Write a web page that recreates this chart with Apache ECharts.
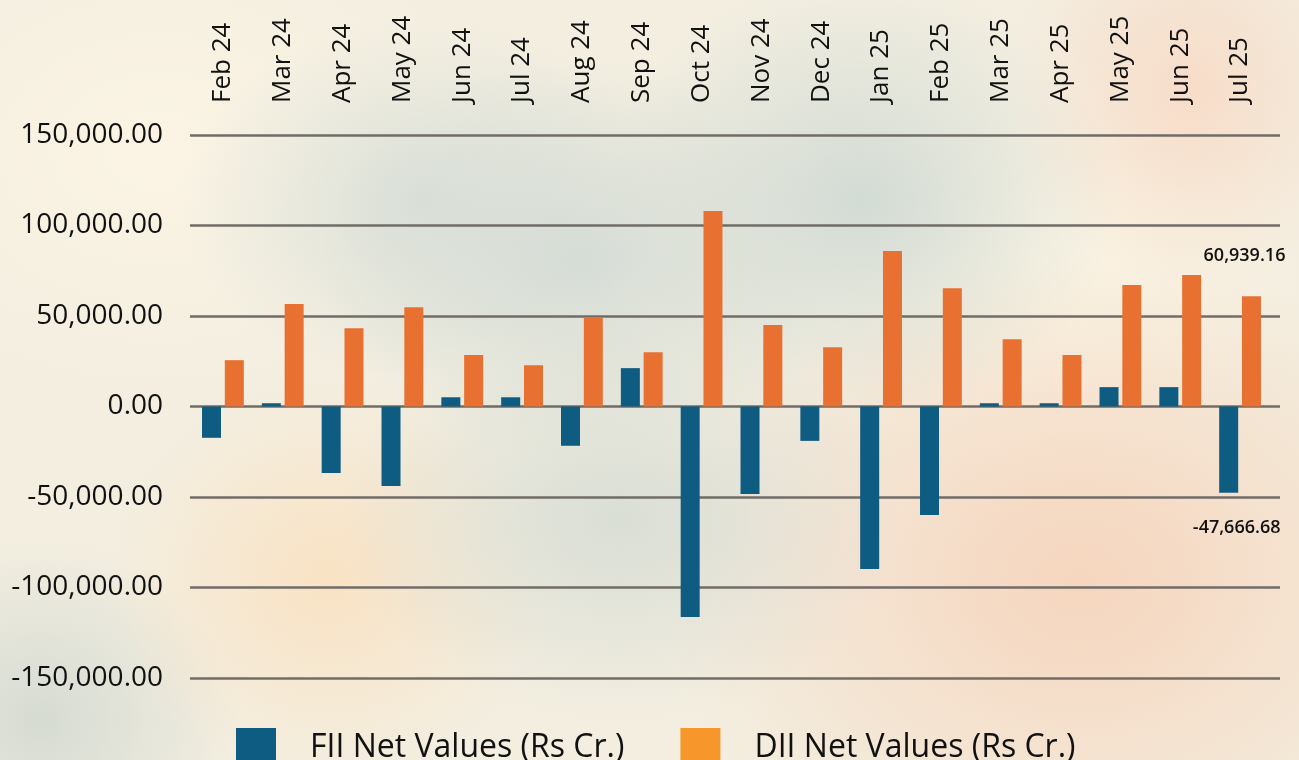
<!DOCTYPE html>
<html>
<head>
<meta charset="utf-8">
<script src="https://cdn.jsdelivr.net/npm/echarts@6/dist/echarts.min.js"></script>
<style>
html,body{margin:0;padding:0;width:1299px;height:760px;overflow:hidden;}
body{
  background-color:#F3EEE0;
  background-image:
    radial-gradient(ellipse 240px 180px at 420px 200px, rgba(212,220,214,0.8), rgba(212,220,214,0) 100%),
    radial-gradient(ellipse 260px 200px at 580px 260px, rgba(210,219,213,0.9), rgba(210,219,213,0) 100%),
    radial-gradient(ellipse 260px 220px at 860px 200px, rgba(208,218,212,0.95), rgba(208,218,212,0) 100%),
    radial-gradient(ellipse 280px 200px at 620px 520px, rgba(214,220,212,0.9), rgba(214,220,212,0) 100%),
    radial-gradient(ellipse 220px 200px at 330px 580px, rgba(250,226,194,0.95), rgba(250,226,194,0) 100%),
    radial-gradient(ellipse 420px 330px at 1080px 580px, rgba(246,212,188,0.95), rgba(246,212,188,0) 100%),
    radial-gradient(ellipse 180px 200px at 1190px 90px, rgba(248,218,198,0.9), rgba(248,218,198,0) 100%),
    radial-gradient(ellipse 200px 180px at 40px 720px, rgba(212,218,210,0.95), rgba(212,218,210,0) 100%),
    radial-gradient(ellipse 300px 220px at 1030px 260px, rgba(252,245,228,0.95), rgba(252,245,228,0) 100%),
    radial-gradient(ellipse 360px 260px at 160px 150px, rgba(251,244,228,1), rgba(251,244,228,0) 100%);
}
#chart{width:1299px;height:760px;}
</style>
</head>
<body>
<div id="chart"></div>
<script>
const categories = ['Feb 24','Mar 24','Apr 24','May 24','Jun 24','Jul 24','Aug 24','Sep 24','Oct 24','Nov 24','Dec 24','Jan 25','Feb 25','Mar 25','Apr 25','May 25','Jun 25','Jul 25'];
const fiiValues = [-17300, 1800, -36700, -43900, 5100, 5100, -21700, 21200, -116300, -48300, -19000, -89800, -59900, 1800, 1800, 10700, 10700, -47666.68];
const diiValues = [25600, 56600, 43300, 54900, 28400, 22800, 49500, 30000, 108000, 45000, 32800, 85900, 65400, 37200, 28400, 67100, 72600, 60939.16];
const fiiName = 'FII Net Values (Rs Cr.)';
const diiName = 'DII Net Values (Rs Cr.)';
const yMin = -150000, yMax = 150000, yStep = 50000;

const FONT = '"Open Sans", sans-serif';
const fmt = v => Number(v).toLocaleString('en-US', {minimumFractionDigits: 2, maximumFractionDigits: 2});
const last = categories.length - 1;

function buildData(values, labelOpt) {
  return values.map((v, i) => i === last ? {value: v, label: labelOpt} : v);
}

const chart = echarts.init(document.getElementById('chart'), null, {renderer: 'canvas'});
chart.setOption({
  backgroundColor: 'transparent',
  animation: false,
  textStyle: {fontFamily: FONT},
  grid: [
    {left: 190, right: 19, top: 135, bottom: 82},
    {left: 193, right: 29, top: 135, bottom: 82}
  ],
  legend: {
    left: 236, top: 728, padding: 0,
    itemWidth: 40, itemHeight: 40, itemGap: 56,
    icon: 'rect',
    textStyle: {fontFamily: FONT, fontSize: 32, color: '#111', padding: [0, 0, 8, 29]},
    data: [
      {name: fiiName, itemStyle: {color: '#0F5C82'}},
      {name: diiName, itemStyle: {color: '#F7962A'}}
    ]
  },
  xAxis: [
    {gridIndex: 0, type: 'category', data: categories, show: false},
    {
      gridIndex: 1, type: 'category', data: categories, position: 'top',
      axisLine: {show: false}, axisTick: {show: false}, splitLine: {show: false},
      axisLabel: {rotate: 90, margin: 32, fontSize: 26, color: '#111', fontFamily: FONT, interval: 0}
    }
  ],
  yAxis: [
    {
      gridIndex: 0, type: 'value', min: yMin, max: yMax, interval: yStep,
      axisLine: {show: false}, axisTick: {show: false},
      axisLabel: {margin: 27, fontSize: 28, color: '#111', fontFamily: FONT, formatter: fmt},
      splitLine: {show: true, lineStyle: {color: '#716C67', width: 2.5}}
    },
    {gridIndex: 1, type: 'value', min: yMin, max: yMax, interval: yStep, show: false, splitLine: {show: false}}
  ],
  series: [
    {
      name: fiiName, type: 'bar', xAxisIndex: 1, yAxisIndex: 1,
      barWidth: 19, barGap: '20%',
      itemStyle: {color: '#0F5C82'},
      data: buildData(fiiValues, {
        show: true, position: 'bottom', distance: 5, offset: [8, 21],
        fontSize: 18, fontWeight: 600, color: '#111', fontFamily: FONT,
        formatter: p => fmt(p.value)
      })
    },
    {
      name: diiName, type: 'bar', xAxisIndex: 1, yAxisIndex: 1,
      barWidth: 19, barGap: '20%',
      itemStyle: {color: '#E87132'},
      data: buildData(diiValues, {
        show: true, position: 'top', distance: 5, offset: [-7, -26],
        fontSize: 18, fontWeight: 600, color: '#111', fontFamily: FONT,
        formatter: p => fmt(p.value)
      })
    }
  ]
});
</script>
</body>
</html>
